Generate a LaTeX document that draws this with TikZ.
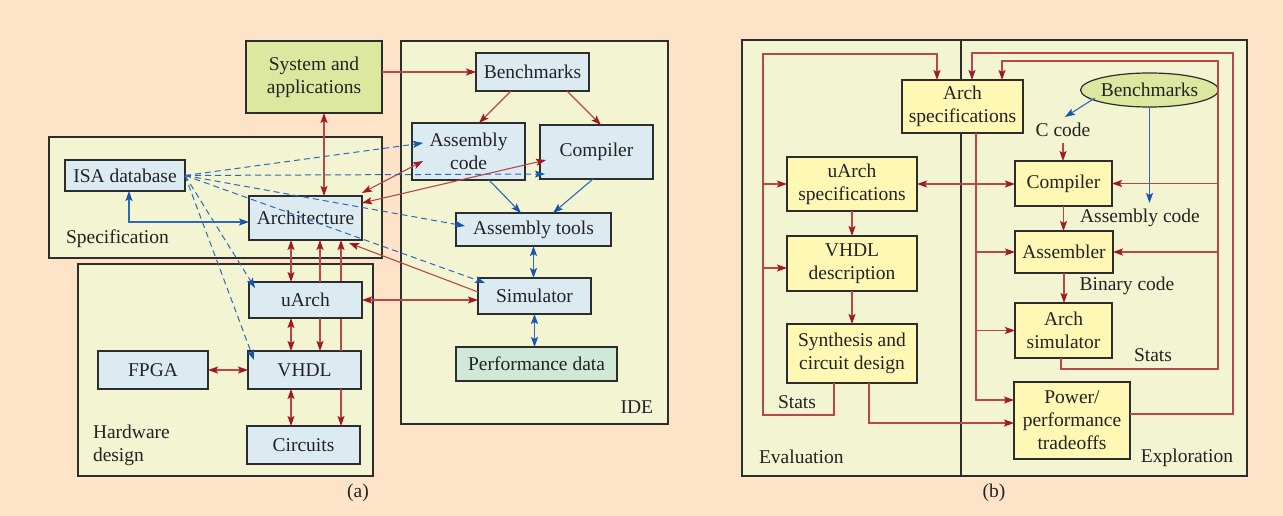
\documentclass[tikz,border=0pt]{standalone}
\usepackage{fontspec}
\setmainfont{Liberation Serif}
\usetikzlibrary{arrows.meta,shapes.geometric}

\definecolor{bgpeach}{RGB}{253,227,200}
\definecolor{panel}{RGB}{242,244,210}
\definecolor{bluebox}{RGB}{220,234,242}
\definecolor{sysbox}{RGB}{220,232,160}
\definecolor{perfbox}{RGB}{208,232,214}
\definecolor{yelbox}{RGB}{255,248,180}
\definecolor{linered}{RGB}{185,70,72}
\definecolor{tipred}{RGB}{160,25,35}
\definecolor{lineblue}{RGB}{45,105,185}
\definecolor{tipblue}{RGB}{25,85,175}
\definecolor{edge}{RGB}{45,45,45}
\definecolor{ink}{RGB}{35,35,35}

\begin{document}
\begin{tikzpicture}[x=1pt,y=-1pt,
  font=\fontsize{19.5}{23}\selectfont,
  every node/.style={text=ink},
  group/.style={draw=edge,line width=1.5pt,fill=panel},
  box/.style={draw=edge,line width=1.2pt,align=center,inner sep=0pt,outer sep=0pt},
  bbox/.style={box,fill=bluebox},
  ybox/.style={box,fill=yelbox},
  lbl/.style={inner sep=0pt,outer sep=0pt,align=center},
  rl/.style={draw=linered,line width=1.1pt},
  ra/.style={rl,-{Stealth[length=10pt,width=7pt,inset=2pt,color=tipred]}},
  rab/.style={rl,{Stealth[length=10pt,width=7pt,inset=2pt,color=tipred]}-{Stealth[length=10pt,width=7pt,inset=2pt,color=tipred]}},
  bl/.style={draw=lineblue,line width=1.1pt},
  ba/.style={bl,-{Stealth[length=10pt,width=7pt,inset=2pt,color=tipblue]}},
  bab/.style={bl,{Stealth[length=10pt,width=7pt,inset=2pt,color=tipblue]}-{Stealth[length=10pt,width=7pt,inset=2pt,color=tipblue]}},
  bd/.style={bl,line width=1pt,dash pattern=on 6pt off 4pt,-{Stealth[length=10pt,width=7pt,inset=2pt,color=tipblue]}}
]
\useasboundingbox (0,0) rectangle (1283,516);
\fill[bgpeach] (0,0) rectangle (1283,516);

% ---------------- (a) design flow ----------------
\draw[group] (49,137) rectangle (382,258);
\draw[group] (78,264) rectangle (373,476);
\draw[group] (401,41) rectangle (668,424);

\node[lbl,anchor=west] (speclbl) at (66,239) {Specification};
\node[lbl,anchor=west,align=left] (hwlbl) at (93,445) {Hardware\\design};
\node[lbl,anchor=east] (idelbl) at (653,407) {IDE};

% column positions for the vertical links
\coordinate (k291) at (291,0);
\coordinate (k320) at (320,0);
\coordinate (k324) at (324,0);
\coordinate (k341) at (341,0);

% VHDL feeds Architecture, passing behind uArch
\node[bbox,minimum width=113,minimum height=44] (arch) at (305.5,218) {Architecture};
\node[bbox,minimum width=113,minimum height=38] (vhdl) at (304.5,370) {VHDL};
\draw[ra] (vhdl.north -| k341) -- (arch.south -| k341);

\node[bbox,fill=sysbox,minimum width=136,minimum height=72] (sys) at (314,77) {System and\\applications};
\node[bbox,minimum width=113,minimum height=38] (bench) at (532.5,72) {Benchmarks};
\node[bbox,minimum width=113,minimum height=57] (asmcode) at (468.5,151.5) {Assembly\\code};
\node[bbox,minimum width=113,minimum height=54] (comp) at (596.5,152) {Compiler};
\node[bbox,minimum width=155,minimum height=33] (asmtools) at (533.5,229.5) {Assembly tools};
\node[bbox,minimum width=113,minimum height=36] (sim) at (534.5,296) {Simulator};
\node[bbox,fill=perfbox,minimum width=161,minimum height=34] (perf) at (536.5,364) {Performance data};
\node[bbox,minimum width=120,minimum height=31] (isa) at (125,175.5) {ISA database};
\node[bbox,minimum width=113,minimum height=36] (uarch) at (305.5,300) {uArch};
\node[bbox,minimum width=113,minimum height=38] (circ) at (303.5,445) {Circuits};
\node[bbox,minimum width=110,minimum height=38] (fpga) at (153,370) {FPGA};

\draw[ra] (sys.east |- bench.west) -- (bench.west);
\draw[rab] (sys.south -| k324) -- (arch.north -| k324);
\draw[ra] ([xshift=-21.5]bench.south) -- ([xshift=10.5]asmcode.north);
\draw[ra] ([xshift=34.5]bench.south) -- ([xshift=4.5]comp.north);
\draw[ba] ([xshift=20.5]asmcode.south) -- ([xshift=-12.5]asmtools.north);
\draw[ba] ([xshift=-3.5]comp.south) -- ([xshift=19.5]asmtools.north);
\draw[bab] (asmtools.south) -- (asmtools.south |- sim.north);
\draw[bab] (sim.south) -- (sim.south |- perf.north);
\draw[rab] (uarch.east) -- (sim.west |- uarch.east);
\draw[ra] ([yshift=4]sim.west) -- ([xshift=-13,yshift=-3]arch.south east);
\draw[rab] ([yshift=3]arch.north east) -- ([xshift=11,yshift=-9.5]asmcode.west);
\draw[rab] ([yshift=15]arch.east) -- ([xshift=6,yshift=-8]comp.west);

\draw[rab] (arch.south -| k291) -- (uarch.north -| k291);
\draw[ra] (uarch.north -| k320) -- (arch.south -| k320);
\draw[ra] (uarch.south -| k320) -- (vhdl.north -| k320);
\draw[rab] (uarch.south -| k291) -- (vhdl.north -| k291);
\draw[rab] (vhdl.south -| k291) -- (circ.north -| k291);
\draw[ra] (vhdl.south -| k341) -- (circ.north -| k341);
\draw[rab] (fpga.east) -- (vhdl.west);
\draw[bab] ([xshift=4]isa.south) |- ([yshift=-4]arch.west);

% ISA database references
\draw[bd] (isa.east) -- ([xshift=11,yshift=8.5]asmcode.west);
\draw[bd] (isa.east) -- ([xshift=5,yshift=-22]comp.west);
\draw[bd] (isa.east) -- ([xshift=9,yshift=3.5]asmtools.west);
\draw[bd] (isa.east) -- ([xshift=7,yshift=-5]sim.north west);
\draw[bd] (isa.east) -- ([xshift=6,yshift=-6]uarch.north west);
\draw[bd] (isa.east) -- ([xshift=6,yshift=-9]vhdl.north west);

\node[lbl] (capa) at (358,493) {(a)};

% ---------------- (b) evaluation / exploration ----------------
\draw[group] (742,40) rectangle (961,476);
\draw[group] (961,40) rectangle (1247,476);

\node[lbl,anchor=west] (evallbl) at (759,457) {Evaluation};
\node[lbl,anchor=east] (expllbl) at (1233,458) {Exploration};

\node[ybox,minimum width=121,minimum height=53] (archspec) at (962.5,106.5) {Arch\\specifications};
\node[ybox,minimum width=130,minimum height=54] (uaspec) at (852,184) {uArch\\specifications};
\node[ybox,minimum width=130,minimum height=55] (vhdldesc) at (852,263.5) {VHDL\\description};
\node[ybox,minimum width=130,minimum height=59] (synth) at (852,353.5) {Synthesis and\\circuit design};
\node[ybox,minimum width=97,minimum height=45] (rcomp) at (1063.5,183.5) {Compiler};
\node[ybox,minimum width=98,minimum height=42] (rasm) at (1064,252) {Assembler};
\node[ybox,minimum width=97,minimum height=55] (rsim) at (1063.5,330.5) {Arch\\simulator};
\node[ybox,minimum width=116,minimum height=77] (power) at (1072,420.5) {Power/\\performance\\tradeoffs};
\node[ellipse,draw=edge,line width=1.2pt,fill=sysbox,inner sep=0pt,minimum width=123,minimum height=34] (rbench) at (1149.5,90) {Benchmarks};

\node[lbl] (ccode) at (1063,130) {C code};
\node[lbl] (asmlbl) at (1140,218) {Assembly code};
\node[lbl] (binlbl) at (1127,286) {Binary code};
\node[lbl] (statsr) at (1153,355) {Stats};
\node[lbl] (statsl) at (797,402) {Stats};

% evaluation loop
\coordinate (lb) at (763,415);
\coordinate (lt) at (763,54);
\coordinate (vin) at ([yshift=-4.5]vhdldesc.west);
\draw[ra] ([xshift=-18]synth.south) |- (lb) -- (lt) -| ([xshift=-25.5]archspec.north);
\draw[ra] (lt |- uaspec.west) -- (uaspec.west);
\draw[ra] (lt |- vin) -- (vin);
\draw[ra] (uaspec.south) -- (uaspec.south |- vhdldesc.north);
\draw[ra] (vhdldesc.south) -- (vhdldesc.south |- synth.north);
\draw[ra] ([xshift=17]synth.south) |- ([yshift=-2.5]power.west);
\draw[rab] (uaspec.east) -- (uaspec.east -| rcomp.west);

% architecture specification fan-out
\coordinate (ad) at (976,0);
\draw[ra] ([xshift=13.5]archspec.south) |- ([yshift=20.5]power.west);
\draw[ra] (ad |- rasm.west) -- (rasm.west);
\draw[ra] (ad |- rsim.west) -- (rsim.west);

% tool chain
\draw[ra] ([yshift=-6]ccode.south) -- (ccode.south |- rcomp.north);
\draw[ra] (rcomp.south) -- (rcomp.south |- rasm.north);
\draw[ra] (rasm.south) -- (rasm.south |- rsim.north);
\draw[ba] ([xshift=-54.5,yshift=-8]rbench.center) -- ([xshift=2,yshift=13]ccode.center);
\draw[ba] (rbench.south) -- ([xshift=9.5,yshift=15]asmlbl.center);

% exploration loops
\coordinate (ir) at (1218,369);
\coordinate (it) at (1218,61);
\draw[ra] ([xshift=-2.5]rsim.south) |- (ir) -- (it) -| ([xshift=39.5]archspec.north);
\draw[ra] (ir |- rcomp.east) -- (rcomp.east);
\draw[ra] (ir |- rasm.east) -- (rasm.east);
\coordinate (ot) at (1233,53);
\draw[ra] ([yshift=6.5]power.east) -| (ot) -| ([xshift=9.5]archspec.north);

\node[lbl] (capb) at (994,493) {(b)};
\end{tikzpicture}
\end{document}
